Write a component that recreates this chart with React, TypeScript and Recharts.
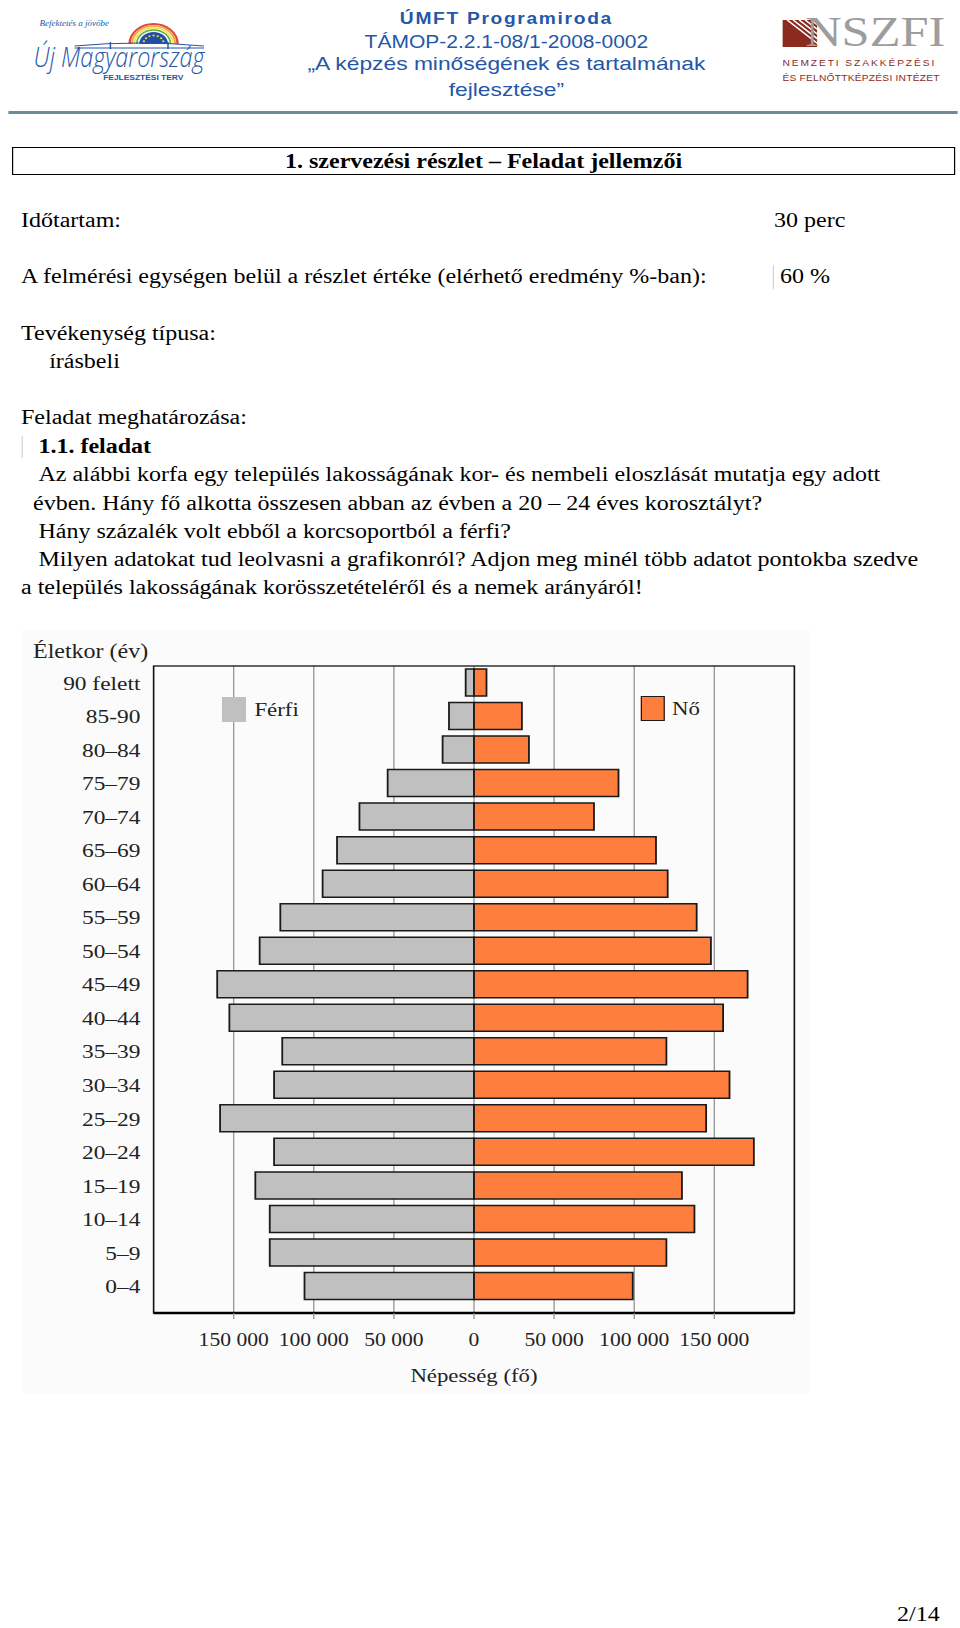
import React from 'react';
import * as RC from 'recharts';
import { BarChart, Bar, XAxis, YAxis, CartesianGrid, Legend } from 'recharts';

// ---------- data ----------
const ageGroups = [
  '90 felett', '85-90', '80–84', '75–79', '70–74', '65–69', '60–64', '55–59', '50–54', '45–49',
  '40–44', '35–39', '30–34', '25–29', '20–24', '15–19', '10–14', '5–9', '0–4',
];
const maleValues = [
  5200, 15600, 19600, 53900, 71500, 85500, 94500, 120900, 133800, 160300,
  152700, 119700, 124800, 158500, 124800, 136500, 127500, 127500, 105800,
];
const femaleValues = [
  7800, 29900, 34300, 90200, 74900, 113600, 120900, 139000, 147900, 170800,
  155500, 120100, 159500, 144900, 174700, 129800, 137600, 120100, 99100,
];
const xTicks = [-150000, -100000, -50000, 0, 50000, 100000, 150000];
const xDomain = [-200000, 200000];
const seriesNames = ['Férfi', 'Nő'];
const yAxisTitle = 'Életkor (év)';
const xAxisTitle = 'Népesség (fő)';

const data = ageGroups.map((age, i) => ({ age, male: -maleValues[i], female: femaleValues[i] }));

// ---------- styles ----------
const SERIF = '"Liberation Serif", "Times New Roman", serif';
const SANS = '"Liberation Sans", Arial, sans-serif';
const BLUE = '#2457a8';
const DARKRED = '#8b2a1f';
const MALE_FILL = '#c0c0c0';
const FEMALE_FILL = '#fd7e3d';
const BAR_STROKE = '#1a1a1a';

const fmt = (v: number) => String(Math.abs(v)).replace(/\B(?=(\d{3})+(?!\d))/g, ' ');

const usePlotAreaSafe: () => any = (RC as any).usePlotArea || (() => undefined);

function PlotFrame() {
  const area = usePlotAreaSafe();
  if (!area) return null;
  return (
    <rect x={area.x} y={area.y} width={area.width} height={area.height}
      fill="none" stroke="#111" strokeWidth={1.3} />
  );
}

const legendSpots: Record<string, { left: number; top: number; border: string; gap: number }> = {
  'Férfi': { left: 185, top: 97, border: 'none', gap: 7 },
  'Nő': { left: 534, top: 96, border: '1.5px solid #1a1a1a', gap: 6 },
};

function PyramidLegend(props: any) {
  const payload = props.payload || [];
  return (
    <div style={{ position: 'relative', width: 700, height: 0 }}>
      {payload.map((entry: any) => {
        const spot = legendSpots[entry.value] || { left: 0, top: 0, border: 'none', gap: 6 };
        return (
          <div key={entry.value} style={{ position: 'absolute', left: spot.left, top: spot.top, display: 'flex', alignItems: 'center', whiteSpace: 'nowrap' }}>
            <span style={{ display: 'inline-block', width: 20, height: 25, boxSizing: 'border-box', background: entry.color, border: spot.border }} />
            <span style={{ marginLeft: spot.gap, fontFamily: SERIF, fontSize: 19, color: '#222' }}>{entry.value}</span>
          </div>
        );
      })}
    </div>
  );
}

function AgeTitle(props: any) {
  const vb = props.viewBox || { x: 0, y: 0 };
  return (
    <text x={vb.x + 27.5} y={vb.y - 8} fontFamily={SERIF} fontSize={20} fill="#222">{yAxisTitle}</text>
  );
}

function PopTitle(props: any) {
  const vb = props.viewBox || { x: 0, y: 0, width: 0 };
  return (
    <text x={vb.x + vb.width / 2} y={vb.y + 69} textAnchor="middle" fontFamily={SERIF} fontSize={19} fill="#222">{xAxisTitle}</text>
  );
}

function Pyramid() {
  return (
    <BarChart
      width={700}
      height={800}
      data={data}
      layout="vertical"
      stackOffset="sign"
      margin={{ top: 66, right: 38, left: 0, bottom: 0 }}
    >
      <CartesianGrid horizontal={false} stroke="#8c8c8c" strokeWidth={1} />
      <XAxis
        type="number"
        domain={xDomain}
        ticks={xTicks}
        tickFormatter={fmt}
        height={87}
        axisLine={{ stroke: '#000', strokeWidth: 2.5 }}
        tickLine={{ stroke: '#8c8c8c' }}
        tickSize={6}
        tickMargin={14}
        tick={{ fontFamily: SERIF, fontSize: 18, fill: '#222' }}
        label={{ content: PopTitle }}
        interval={0}
      />
      <YAxis
        type="category"
        dataKey="age"
        width={128}
        axisLine={false}
        tickLine={false}
        tickSize={0}
        tickMargin={11}
        padding={{ top: 0, bottom: 10 }}
        interval={0}
        tick={{ fontFamily: SERIF, fontSize: 19.5, fill: '#222' }}
        label={{ content: AgeTitle }}
      />
      <Legend
        content={PyramidLegend}
        layout="horizontal"
        verticalAlign="middle"
        align="center"
        wrapperStyle={{ position: 'absolute', left: 0, top: 0, width: 700, height: 0 }}
      />
      <Bar dataKey="male" name={seriesNames[0]} stackId="pop" fill={MALE_FILL} stroke={BAR_STROKE} strokeWidth={1.5} barSize={27} isAnimationActive={false} />
      <Bar dataKey="female" name={seriesNames[1]} stackId="pop" fill={FEMALE_FILL} stroke={BAR_STROKE} strokeWidth={1.5} barSize={27} isAnimationActive={false} />
      <PlotFrame />
    </BarChart>
  );
}

// ---------- page text ----------
function T(props: { x: number; cy: number; size?: number; bold?: boolean; children: React.ReactNode; style?: React.CSSProperties }) {
  const size = props.size || 20;
  return (
    <div style={{
      position: 'absolute', left: props.x, top: props.cy - 12.5, lineHeight: '24px', fontSize: size,
      fontWeight: props.bold ? 700 : 400, whiteSpace: 'nowrap', fontFamily: SERIF, color: '#000', ...props.style,
    }}>{props.children}</div>
  );
}

function LeftLogo() {
  return (
    <>
      <div style={{ position: 'absolute', left: 33, top: 19, fontFamily: SERIF, fontStyle: 'italic', fontSize: 7.5, color: BLUE }}>Befektetés a jövőbe</div>
      <svg style={{ position: 'absolute', left: 100, top: 17 }} width={56} height={32} viewBox="0 0 56 32">
        <path d="M8 27 A20 20 0 0 1 48 27" fill="none" stroke="#e2483d" strokeWidth={2} />
        <path d="M10 27 A18 18 0 0 1 46 27" fill="none" stroke="#f2a23a" strokeWidth={1.6} />
        <path d="M12 27 A16 16 0 0 1 44 27" fill="none" stroke="#f4e04a" strokeWidth={1.4} />
        <path d="M14 27 A14 14 0 0 1 42 27" fill="none" stroke="#58b04b" strokeWidth={1.4} />
        <path d="M16 27 A12 12 0 0 1 40 27 Z" fill="#1f4fa3" />
        {[0, 1, 2, 3, 4, 5, 6].map((k) => {
          const a = Math.PI * (0.1 + 0.8 * k / 6);
          return <circle key={k} cx={28 - 8.5 * Math.cos(a)} cy={27 - 8.5 * Math.sin(a)} r={1} fill="#f5d33a" />;
        })}
      </svg>
      <svg style={{ position: 'absolute', left: 62, top: 40 }} width={108} height={10} viewBox="0 0 108 10">
        <path d="M0 6 Q54 0 108 6" fill="none" stroke={BLUE} strokeWidth={1.2} />
        <path d="M0 8 L108 8" stroke={BLUE} strokeWidth={1} />
        <path d="M30 2 L30 9 M78 2 L78 9" stroke={BLUE} strokeWidth={1.2} />
      </svg>
      <div style={{ position: 'absolute', left: 28, top: 43, height: 24, fontFamily: '"Open Sans", sans-serif', fontStyle: 'italic', fontWeight: 300, fontSize: 19.5, color: BLUE, transform: 'scaleY(1.4)', transformOrigin: '0 0', lineHeight: '20px', whiteSpace: 'nowrap' }}>Új Magyarország</div>
      <div style={{ position: 'absolute', left: 86, top: 73, lineHeight: '9px', fontFamily: SANS, fontWeight: 700, fontSize: 7, color: BLUE, whiteSpace: 'nowrap' }}>FEJLESZTÉSI TERV</div>
    </>
  );
}

function RightLogo() {
  return (
    <>
      <svg style={{ position: 'absolute', left: 652, top: 20 }} width={29} height={27} viewBox="0 0 29 27">
        <rect x={0} y={0} width={29} height={27} fill={DARKRED} />
        {[4, 9, 14, 19, 24].map((o) => (
          <line key={o} x1={o} y1={0} x2={29} y2={27 - o * 0.93} stroke="#fff" strokeWidth={1.4} />
        ))}
      </svg>
      <div style={{ position: 'absolute', left: 671, top: 11, fontFamily: SERIF, fontSize: 42, lineHeight: '42px', color: '#9d9d9d', whiteSpace: 'nowrap' }}>NSZFI</div>
      <div style={{ position: 'absolute', left: 652, top: 58, fontFamily: SANS, fontSize: 8.5, letterSpacing: 1.6, color: DARKRED, whiteSpace: 'nowrap' }}>NEMZETI SZAKKÉPZÉSI</div>
      <div style={{ position: 'absolute', left: 652, top: 73, fontFamily: SANS, fontSize: 8.5, letterSpacing: 0.2, color: DARKRED, whiteSpace: 'nowrap' }}>ÉS FELNŐTTKÉPZÉSI INTÉZET</div>
    </>
  );
}

function Header() {
  const lineStyle: React.CSSProperties = { position: 'absolute', left: 222, width: 400, textAlign: 'center', fontFamily: SANS, color: BLUE, whiteSpace: 'nowrap', lineHeight: '22px' };
  return (
    <>
      <LeftLogo />
      <div style={{ ...lineStyle, top: 8, fontSize: 16, fontWeight: 700, letterSpacing: 1.4 }}>ÚMFT Programiroda</div>
      <div style={{ ...lineStyle, top: 30.5, fontSize: 17.5 }}>TÁMOP-2.2.1-08/1-2008-0002</div>
      <div style={{ ...lineStyle, top: 53, fontSize: 19 }}>„A képzés minőségének és tartalmának</div>
      <div style={{ ...lineStyle, top: 79, fontSize: 19 }}>fejlesztése”</div>
      <RightLogo />
      <div style={{ position: 'absolute', left: 6.7, top: 111, width: 791, height: 3, background: '#6f8a9b' }} />
    </>
  );
}

export default function App() {
  return (
    <div style={{ position: 'absolute', left: 0, top: 0, width: 800, height: 1628, transform: 'scaleX(1.2)', transformOrigin: '0 0', background: '#fff', fontFamily: SERIF, overflow: 'hidden' }}>
      <Header />
      <div style={{ position: 'absolute', left: 10, top: 147, width: 786, height: 28, boxSizing: 'border-box', border: '1px solid #000', textAlign: 'center', fontWeight: 700, fontSize: 20, lineHeight: '26px' }}>
        1. szervezési részlet – Feladat jellemzői
      </div>
      <T x={17.5} cy={220}>Időtartam:</T>
      <T x={645} cy={220}>30 perc</T>
      <T x={17.5} cy={276}>A felmérési egységen belül a részlet értéke (elérhető eredmény %-ban):</T>
      <div style={{ position: 'absolute', left: 644, top: 265, width: 1, height: 24, background: '#d4d4d4' }} />
      <T x={650} cy={276}>60 %</T>
      <T x={17.5} cy={333}>Tevékenység típusa:</T>
      <T x={41} cy={361}>írásbeli</T>
      <T x={17.5} cy={417}>Feladat meghatározása:</T>
      <div style={{ position: 'absolute', left: 17.5, top: 436, width: 1, height: 22, background: '#d4d4d4' }} />
      <T x={32} cy={446} bold>1.1. feladat</T>
      <T x={32} cy={474}>Az alábbi korfa egy település lakosságának kor- és nembeli eloszlását mutatja egy adott</T>
      <T x={27.5} cy={503}>évben. Hány fő alkotta összesen abban az évben a 20 – 24 éves korosztályt?</T>
      <T x={32} cy={531}>Hány százalék volt ebből a korcsoportból a férfi?</T>
      <T x={32} cy={559}>Milyen adatokat tud leolvasni a grafikonról? Adjon meg minél több adatot pontokba szedve</T>
      <T x={17.5} cy={587}>a település lakosságának korösszetételéről és a nemek arányáról!</T>

      <div style={{ position: 'absolute', left: 19, top: 630, width: 656, height: 763, background: '#fbfbfb' }} />
      <div style={{ position: 'absolute', left: 0, top: 600 }}>
        <Pyramid />
      </div>

      <T x={747.5} cy={1614}>2/14</T>
    </div>
  );
}
